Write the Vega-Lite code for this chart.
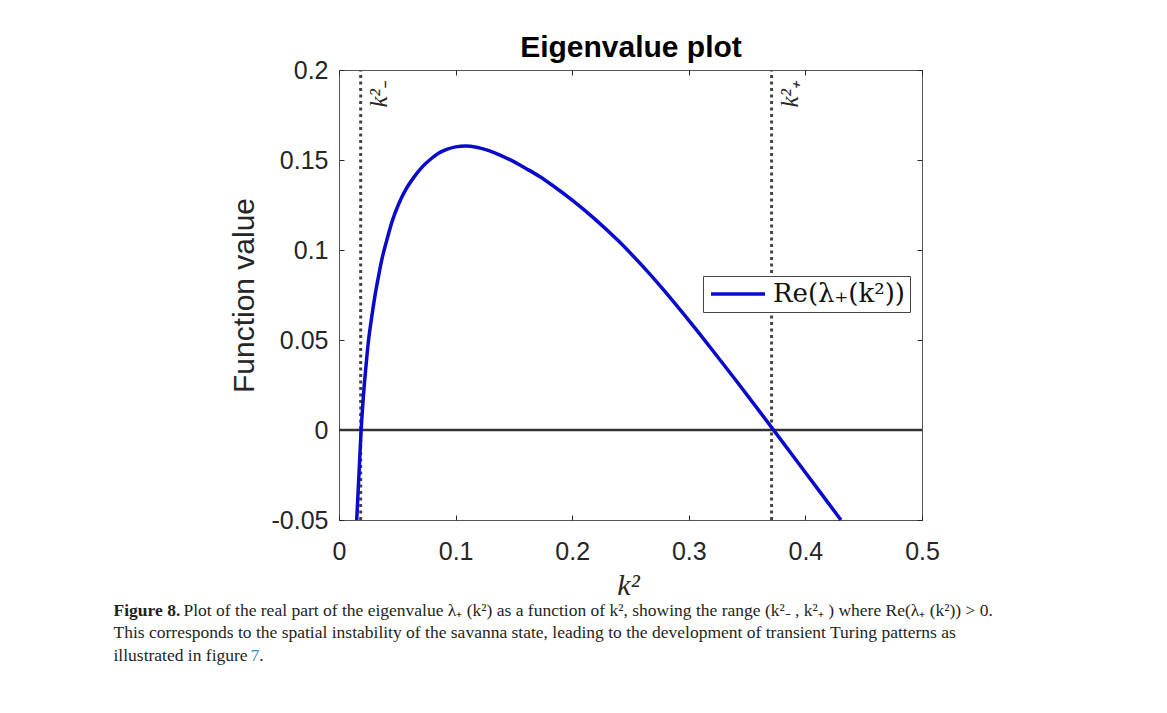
{
  "$schema": "https://vega.github.io/schema/vega-lite/v6.json",
  "width": 583,
  "height": 450,
  "autosize": {"type": "none"},
  "padding": {"left": 339, "top": 70, "right": 245, "bottom": 193},
  "background": "white",
  "datasets": {
    "curve": [
      {"k": 0.0152, "value": -0.05, "series": "Re(λ₊(k²))"},
      {"k": 0.0172, "value": -0.0235, "series": "Re(λ₊(k²))"},
      {"k": 0.0190, "value": 0.0, "series": "Re(λ₊(k²))"},
      {"k": 0.0210, "value": 0.0195, "series": "Re(λ₊(k²))"},
      {"k": 0.0230, "value": 0.0345, "series": "Re(λ₊(k²))"},
      {"k": 0.0250, "value": 0.0480, "series": "Re(λ₊(k²))"},
      {"k": 0.0280, "value": 0.0625, "series": "Re(λ₊(k²))"},
      {"k": 0.0310, "value": 0.0752, "series": "Re(λ₊(k²))"},
      {"k": 0.0340, "value": 0.0858, "series": "Re(λ₊(k²))"},
      {"k": 0.0371, "value": 0.0957, "series": "Re(λ₊(k²))"},
      {"k": 0.0410, "value": 0.1055, "series": "Re(λ₊(k²))"},
      {"k": 0.0457, "value": 0.1162, "series": "Re(λ₊(k²))"},
      {"k": 0.0510, "value": 0.1253, "series": "Re(λ₊(k²))"},
      {"k": 0.0571, "value": 0.1334, "series": "Re(λ₊(k²))"},
      {"k": 0.0640, "value": 0.1402, "series": "Re(λ₊(k²))"},
      {"k": 0.0714, "value": 0.1462, "series": "Re(λ₊(k²))"},
      {"k": 0.0790, "value": 0.1507, "series": "Re(λ₊(k²))"},
      {"k": 0.0857, "value": 0.1539, "series": "Re(λ₊(k²))"},
      {"k": 0.0930, "value": 0.1560, "series": "Re(λ₊(k²))"},
      {"k": 0.1000, "value": 0.1573, "series": "Re(λ₊(k²))"},
      {"k": 0.1086, "value": 0.1578, "series": "Re(λ₊(k²))"},
      {"k": 0.1180, "value": 0.1571, "series": "Re(λ₊(k²))"},
      {"k": 0.1286, "value": 0.1552, "series": "Re(λ₊(k²))"},
      {"k": 0.1386, "value": 0.1526, "series": "Re(λ₊(k²))"},
      {"k": 0.1486, "value": 0.1495, "series": "Re(λ₊(k²))"},
      {"k": 0.1600, "value": 0.1454, "series": "Re(λ₊(k²))"},
      {"k": 0.1714, "value": 0.1411, "series": "Re(λ₊(k²))"},
      {"k": 0.1850, "value": 0.1350, "series": "Re(λ₊(k²))"},
      {"k": 0.2000, "value": 0.1277, "series": "Re(λ₊(k²))"},
      {"k": 0.2200, "value": 0.1169, "series": "Re(λ₊(k²))"},
      {"k": 0.2400, "value": 0.1048, "series": "Re(λ₊(k²))"},
      {"k": 0.2600, "value": 0.0913, "series": "Re(λ₊(k²))"},
      {"k": 0.2800, "value": 0.0766, "series": "Re(λ₊(k²))"},
      {"k": 0.3000, "value": 0.0609, "series": "Re(λ₊(k²))"},
      {"k": 0.3200, "value": 0.0446, "series": "Re(λ₊(k²))"},
      {"k": 0.3400, "value": 0.0279, "series": "Re(λ₊(k²))"},
      {"k": 0.3600, "value": 0.0109, "series": "Re(λ₊(k²))"},
      {"k": 0.3800, "value": -0.0063, "series": "Re(λ₊(k²))"},
      {"k": 0.4000, "value": -0.0236, "series": "Re(λ₊(k²))"},
      {"k": 0.4200, "value": -0.0409, "series": "Re(λ₊(k²))"},
      {"k": 0.4305, "value": -0.05, "series": "Re(λ₊(k²))"}
    ],
    "bounds": [
      {"k": 0.0186, "label": "k²₋"},
      {"k": 0.371, "label": "k²₊"}
    ]
  },
  "layer": [
    {
      "data": {"values": [{}]},
      "mark": {"type": "rule", "color": "#333333", "strokeWidth": 2.5},
      "encoding": {
        "x": {"datum": 0, "type": "quantitative",
              "scale": {"domain": [0, 0.5], "nice": false, "zero": false},
              "axis": {"orient": "bottom", "title": "Plot of the real part of the eigenvalue λ₊ (k²) as a function of k², showing the range (k²₋ , k²₊ ) where Re(λ₊ (k²)) > 0.",
                       "titleFont": "Liberation Serif", "titleFontSize": 17.5, "titleFontWeight": "normal", "titleColor": "#231f20",
                       "titleAlign": "left", "titleBaseline": "alphabetic", "titleAngle": 0, "titleX": -156, "titleY": 95}},
        "x2": {"datum": 0.5},
        "y": {"datum": 0, "type": "quantitative",
              "scale": {"domain": [-0.05, 0.2], "nice": false, "zero": false},
              "axis": {"orient": "right", "ticks": true, "values": [-0.05, 0, 0.05, 0.1, 0.15, 0.2],
                       "title": "Figure 8.", "titleFont": "Liberation Serif", "titleFontSize": 17.5, "titleFontWeight": "bold", "titleColor": "#231f20",
                       "titleAlign": "left", "titleBaseline": "alphabetic", "titleAngle": 0, "titleX": -809, "titleY": 545}}
      }
    },
    {
      "data": {"name": "bounds"},
      "mark": {"type": "rule", "color": "#444444", "strokeWidth": 3, "strokeDash": [3, 3.5]},
      "encoding": {
        "x": {"field": "k", "type": "quantitative",
              "scale": {"domain": [0, 0.5], "nice": false, "zero": false},
              "axis": {"orient": "top", "ticks": true, "values": [0, 0.1, 0.2, 0.3, 0.4, 0.5],
                       "title": "Eigenvalue plot", "titleFont": "Liberation Sans", "titleFontSize": 30, "titleFontWeight": "bold", "titleColor": "#000000",
                       "titleAlign": "center", "titleBaseline": "alphabetic", "titleAngle": 0, "titleX": 291.5, "titleY": -14}},
        "y": {"datum": -0.05, "type": "quantitative",
              "scale": {"domain": [-0.05, 0.2], "nice": false, "zero": false},
              "axis": {"orient": "left",
                       "title": ["This corresponds to the spatial instability of the savanna state, leading to the development of transient Turing patterns as", "illustrated in figure"],
                       "titleFont": "Liberation Serif", "titleFontSize": 17.5, "titleFontWeight": "normal", "titleColor": "#231f20", "titleLineHeight": 22.5,
                       "titleAlign": "left", "titleBaseline": "alphabetic", "titleAngle": 0, "titleX": -226, "titleY": 567.5}},
        "y2": {"datum": 0.2}
      }
    },
    {
      "data": {"name": "curve"},
      "mark": {"type": "line", "strokeWidth": 3.5, "interpolate": "monotone"},
      "encoding": {
        "x": {"field": "k", "type": "quantitative",
              "scale": {"domain": [0, 0.5], "nice": false, "zero": false},
              "axis": {"orient": "bottom", "ticks": true, "labels": true, "values": [0, 0.1, 0.2, 0.3, 0.4, 0.5],
                       "labelExpr": "'' + datum.value", "labelPadding": 24.5, "labelFlush": false, "labelOverlap": false,
                       "title": "k²", "titleFont": "Liberation Serif", "titleFontStyle": "italic", "titleFontSize": 30, "titleFontWeight": "normal", "titleColor": "#262626",
                       "titleAlign": "center", "titleBaseline": "alphabetic", "titleAngle": 0, "titleX": 289, "titleY": 74}},
        "y": {"field": "value", "type": "quantitative",
              "scale": {"domain": [-0.05, 0.2], "nice": false, "zero": false},
              "axis": {"orient": "left", "ticks": true, "labels": true, "values": [-0.05, 0, 0.05, 0.1, 0.15, 0.2],
                       "labelExpr": "'' + datum.value", "labelPadding": 16, "labelFlush": false, "labelOverlap": false,
                       "title": "Function value", "titleFont": "Liberation Sans", "titleFontSize": 30, "titleFontWeight": "normal", "titleColor": "#262626",
                       "titleAlign": "center", "titleBaseline": "alphabetic", "titleAngle": 270, "titleX": -86, "titleY": 225}},
        "color": {"field": "series", "type": "nominal",
                  "scale": {"range": ["#0a0acc"]},
                  "legend": {"title": null, "orient": "none", "legendX": 364, "legendY": 206,
                             "symbolType": "M-1,0H4.4", "symbolStrokeWidth": 3.5, "symbolSize": 400,
                             "labelFont": "DejaVu Serif", "labelFontSize": 26, "labelColor": "#111111", "labelLimit": 400, "labelOffset": 39,
                             "strokeColor": "#444444", "fillColor": "white", "padding": 5}}
      }
    },
    {
      "data": {"name": "bounds"},
      "mark": {"type": "text", "font": "Liberation Serif", "fontStyle": "italic", "fontSize": 25, "angle": 270,
               "align": "right", "baseline": "top", "dx": -11, "dy": 6, "color": "#262626"},
      "encoding": {
        "x": {"field": "k", "type": "quantitative",
              "scale": {"domain": [0, 0.5], "nice": false, "zero": false},
              "axis": {"orient": "bottom", "title": "7", "titleFont": "Liberation Serif", "titleFontSize": 17.5, "titleFontWeight": "normal", "titleColor": "#2a8fd0",
                       "titleAlign": "left", "titleBaseline": "alphabetic", "titleAngle": 0, "titleX": -89, "titleY": 140}},
        "y": {"datum": 0.2, "type": "quantitative",
              "scale": {"domain": [-0.05, 0.2], "nice": false, "zero": false},
              "axis": {"orient": "left", "title": ".", "titleFont": "Liberation Serif", "titleFontSize": 17.5, "titleFontWeight": "normal", "titleColor": "#231f20",
                       "titleAlign": "left", "titleBaseline": "alphabetic", "titleAngle": 0, "titleX": -80.25, "titleY": 590}},
        "text": {"field": "label"}
      }
    }
  ],
  "resolve": {"axis": {"x": "independent", "y": "independent"}},
  "config": {
    "view": {"stroke": "#555555", "strokeWidth": 1},
    "axis": {"grid": false, "domain": false, "ticks": false, "labels": false,
             "tickColor": "#262626", "tickSize": -5, "tickWidth": 1,
             "labelFont": "Liberation Sans", "labelFontSize": 25, "labelColor": "#262626"}
  }
}
